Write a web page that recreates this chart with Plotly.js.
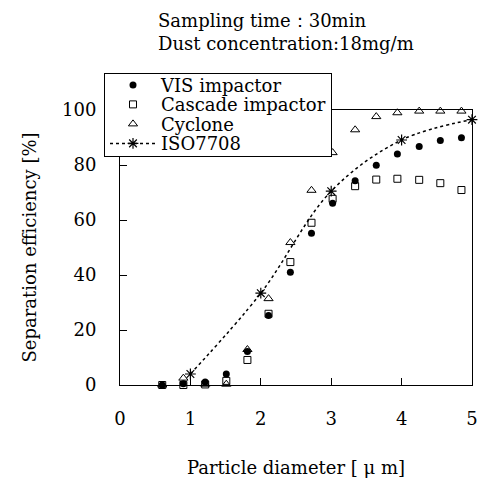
<!DOCTYPE html>
<html><head><meta charset="utf-8">
<script src="https://cdn.plot.ly/plotly-3.0.1.min.js"></script>
<style>html,body{margin:0;padding:0;background:#fff}#c{width:480px;height:479px}</style>
</head><body><div id="c"></div>
<script>
const diameter = [0.60, 0.90, 1.21, 1.51, 1.81, 2.11, 2.42, 2.72, 3.02, 3.34, 3.64, 3.94, 4.25, 4.55, 4.85];
const visImpactor = [0, 0.5, 1.1, 4.0, 12.2, 25.3, 41.0, 55.2, 66.1, 74.3, 79.9, 84.0, 86.7, 88.9, 89.9];
const cascadeImpactor = [0, 0, 0.2, 1.5, 9.1, 25.9, 44.7, 59.0, 67.7, 72.3, 74.7, 75.0, 74.6, 73.4, 70.9];
const cyclone = [0, 2.5, 0.3, 0.3, 12.9, 31.4, 51.8, 70.8, 84.5, 92.8, 97.6, 99.0, 99.6, 99.6, 99.6];
const isoDiameter = [1, 2, 3, 4, 5];
const iso7708 = [4.0, 33.4, 70.5, 89.1, 96.5];
const xTicks = [0, 1, 2, 3, 4, 5];
const yTicks = [0, 20, 40, 60, 80, 100];

const F = "DejaVu Serif, Liberation Serif, serif";
const traces = [
  {x: diameter, y: visImpactor, name: 'VIS impactor', mode: 'markers', type: 'scatter',
   marker: {symbol: 'circle', size: 7, color: '#000'}, cliponaxis: false},
  {x: diameter, y: cascadeImpactor, name: 'Cascade impactor', mode: 'markers', type: 'scatter',
   marker: {symbol: 'square-open', size: 7, color: '#000', line: {width: 1}}, cliponaxis: false},
  {x: diameter, y: cyclone, name: 'Cyclone', mode: 'markers', type: 'scatter',
   marker: {symbol: 'triangle-up-open', size: 8, color: '#000', line: {width: 1}}, cliponaxis: false},
  {x: isoDiameter, y: iso7708, name: 'ISO7708', mode: 'lines+markers', type: 'scatter',
   line: {shape: 'spline', dash: 'dot', width: 1.5, color: '#000'},
   marker: {symbol: 'asterisk-open', size: 9, color: '#000', line: {width: 1.2, color: '#000'}}, cliponaxis: false}
];
const layout = {
  width: 480, height: 479,
  margin: {l: 120, r: 8, t: 110, b: 94},
  paper_bgcolor: '#fff', plot_bgcolor: '#fff',
  font: {family: F, size: 18, color: '#000'},
  title: {text: 'Sampling time：30min<br>Dust concentration:18mg/m', x: 158/480, xanchor: 'left',
          yref: 'container', y: 1 - 18/479, yanchor: 'top', pad: {t: 9},
          font: {family: F, size: 18, color: '#000'}},
  xaxis: {range: [0, 5], tickvals: xTicks, ticktext: xTicks.map(String), ticks: 'inside', ticklen: 7,
          tickcolor: '#000', showline: true, linecolor: '#000', linewidth: 1, mirror: true,
          showgrid: false, zeroline: false, ticklabelstandoff: 17,
          title: {text: 'Particle diameter [ μ m]', standoff: 33, font: {family: F, size: 18}}},
  yaxis: {range: [0, 100], tickvals: yTicks, ticktext: yTicks.map(String), ticks: 'inside', ticklen: 7,
          tickcolor: '#000', showline: true, linecolor: '#000', linewidth: 1, mirror: true,
          showgrid: false, zeroline: false, ticklabelstandoff: 19,
          title: {text: 'Separation efficiency [%]', standoff: 20, font: {family: F, size: 18}}},
  legend: {x: -16/352, xanchor: 'left', y: 1.135, yanchor: 'top', bgcolor: '#fff',
           bordercolor: '#000', borderwidth: 1, font: {family: F, size: 18, color: '#000'},
           tracegroupgap: 0, itemwidth: 46}
};
const gd = document.getElementById('c');
Plotly.newPlot(gd, traces, layout, {staticPlot: true}).then(function () {
  // tighten legend row spacing to match the reference
  const items = gd.querySelectorAll('.legend .traces');
  items.forEach(function (t, i) {
    const m = (t.getAttribute('transform') || '').match(/translate\(\s*([-\d.]+)[ ,]+([-\d.]+)\s*\)/);
    const tx = m ? m[1] : 0;
    t.setAttribute('transform', 'translate(' + tx + ',' + (12 + i * 19.5) + ')');
  });
  const bg = gd.querySelector('.legend rect.bg');
  if (bg) bg.setAttribute('height', 83);
});
</script></body></html>
